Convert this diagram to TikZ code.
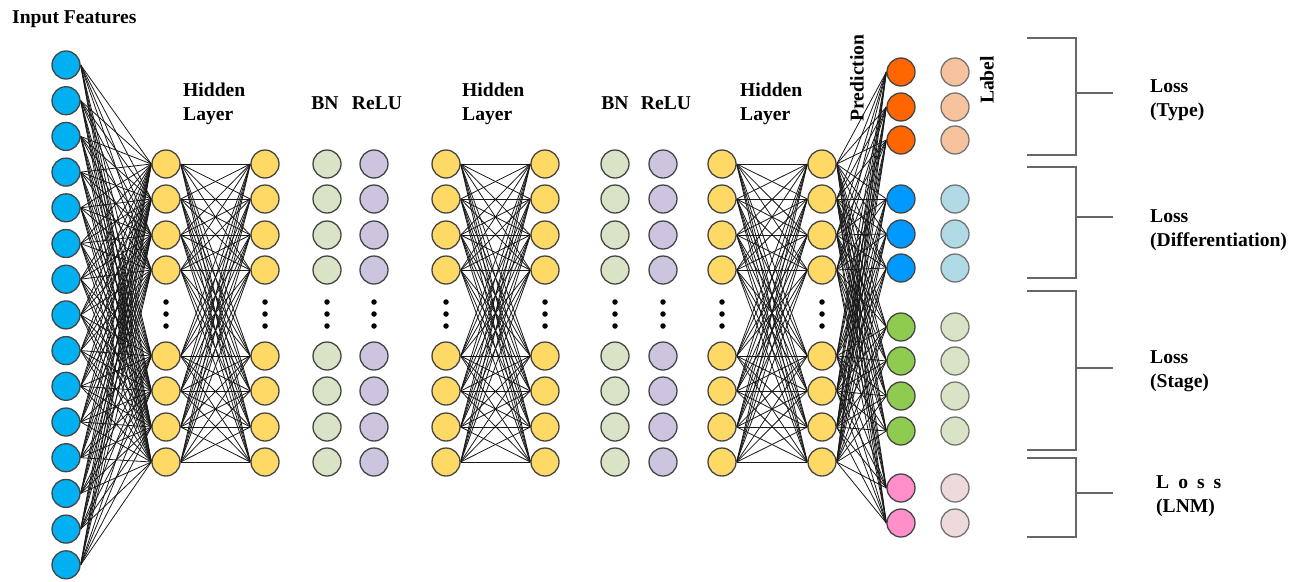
\documentclass[tikz,border=0pt]{standalone}
\usepackage{fontspec}
\setmainfont{Liberation Serif}
\usetikzlibrary{backgrounds}
\definecolor{inblue}{HTML}{00B0F0}
\definecolor{hyel}{HTML}{FFD966}
\definecolor{bngreen}{HTML}{D8E4C5}
\definecolor{relupur}{HTML}{CDC4DF}
\definecolor{porange}{HTML}{FF6600}
\definecolor{pblue}{HTML}{0099FF}
\definecolor{pgreen}{HTML}{8FCB50}
\definecolor{ppink}{HTML}{FF8FCB}
\definecolor{lorange}{HTML}{F6C39E}
\definecolor{lblue}{HTML}{B0DAE6}
\definecolor{lgreen}{HTML}{D8E4C5}
\definecolor{lpink}{HTML}{EFDADB}
\definecolor{edgec}{HTML}{454545}
\tikzset{
 neuron/.style={circle, draw=edgec, line width=1.3pt, minimum size=28pt, inner sep=0pt},
 conn/.style={draw=black!90, line width=0.8pt},
 lbl/.style={font=\fontsize{19.6}{24}\selectfont\bfseries, inner sep=0pt},
 brk/.style={draw=black!60, line width=1.6pt},
 vdot/.style={circle, fill=black, inner sep=0pt, minimum size=5.5pt},
}
\begin{document}
\begin{tikzpicture}[x=1pt,y=-1pt]
\useasboundingbox (0,0) rectangle (1298,581);

% input layer
\foreach \i in {1,...,15}
  \node[neuron, fill=inblue] (in\i) at (66, {65+35.7*(\i-1)}) {};

% hidden / BN / ReLU columns
\foreach \y [count=\k] in {164,199,235,270,356,391,427,462} {
  \node[neuron, fill=hyel] (h1a\k) at (166,\y) {};
  \node[neuron, fill=hyel] (h1b\k) at (265,\y) {};
  \node[neuron, fill=bngreen] (bna\k) at (327,\y) {};
  \node[neuron, fill=relupur] (rla\k) at (374,\y) {};
  \node[neuron, fill=hyel] (h2a\k) at (446,\y) {};
  \node[neuron, fill=hyel] (h2b\k) at (545,\y) {};
  \node[neuron, fill=bngreen] (bnb\k) at (615,\y) {};
  \node[neuron, fill=relupur] (rlb\k) at (663,\y) {};
  \node[neuron, fill=hyel] (h3a\k) at (722,\y) {};
  \node[neuron, fill=hyel] (h3b\k) at (822,\y) {};
}

% vertical dots
\foreach \x in {166,265,327,374,446,545,615,663,722,822}
  \foreach \y in {302,314,326}
    \node[vdot] (dot-\x-\y) at (\x,\y) {};

% prediction and label columns
\foreach \y/\c/\l [count=\k] in {72/porange/lorange,107/porange/lorange,140/porange/lorange,
    199/pblue/lblue,234/pblue/lblue,268/pblue/lblue,
    327/pgreen/lgreen,361/pgreen/lgreen,396/pgreen/lgreen,431/pgreen/lgreen,
    488/ppink/lpink,523/ppink/lpink} {
  \node[neuron, fill=\c] (p\k) at (901,\y) {};
  \node[neuron, fill=\l, draw=black!55] (l\k) at (955,\y) {};
}

% connections
\begin{pgfonlayer}{background}
\foreach \i in {1,...,15}
  \foreach \j in {1,...,8}
    \draw[conn] (in\i.east) -- (h1a\j.west);
\foreach \i in {1,...,8}
  \foreach \j in {1,...,8} {
    \draw[conn] (h1a\i.east) -- (h1b\j.west);
    \draw[conn] (h2a\i.east) -- (h2b\j.west);
    \draw[conn] (h3a\i.east) -- (h3b\j.west);
  }
\foreach \i in {1,...,8}
  \foreach \j in {1,...,12}
    \draw[conn] (h3b\i.east) -- (p\j.west);
\end{pgfonlayer}

% brackets
\draw[brk] (1027,38) -- (1076,38) -- (1076,155) -- (1027,155);
\draw[brk] (1076,93) -- (1113,93);
\draw[brk] (1027,167) -- (1076,167) -- (1076,278) -- (1027,278);
\draw[brk] (1076,217) -- (1113,217);
\draw[brk] (1027,291) -- (1076,291) -- (1076,450) -- (1027,450);
\draw[brk] (1076,368) -- (1113,368);
\draw[brk] (1027,458) -- (1076,458) -- (1076,537) -- (1027,537);
\draw[brk] (1076,493) -- (1113,493);

% texts
\node[lbl, anchor=west] (tIn) at (12,19) {Input Features};
\node[lbl, anchor=west, align=left] (tH1) at (183,104) {Hidden\\Layer};
\node[lbl, anchor=west, align=left] (tH2) at (462,104) {Hidden\\Layer};
\node[lbl, anchor=west, align=left] (tH3) at (740,104) {Hidden\\Layer};
\node[lbl] (tBN1) at (325,103) {BN};
\node[lbl] (tR1) at (377,103) {ReLU};
\node[lbl] (tBN2) at (615,103) {BN};
\node[lbl] (tR2) at (666,103) {ReLU};
\node[lbl, rotate=90] (tP) at (857,78) {Prediction};
\node[lbl, rotate=90] (tL) at (987,80) {Label};
\node[lbl, anchor=west, align=left] (tL1) at (1150,100) {Loss\\(Type)};
\node[lbl, anchor=west, align=left] (tL2) at (1150,230) {Loss\\(Differentiation)};
\node[lbl, anchor=west, align=left] (tL3) at (1150,371) {Loss\\(Stage)};
\node[lbl, anchor=west, align=left] (tL4) at (1156,496) {L\hspace{9pt}o\hspace{9pt}s\hspace{9pt}s\\(LNM)};
\end{tikzpicture}
\end{document}
